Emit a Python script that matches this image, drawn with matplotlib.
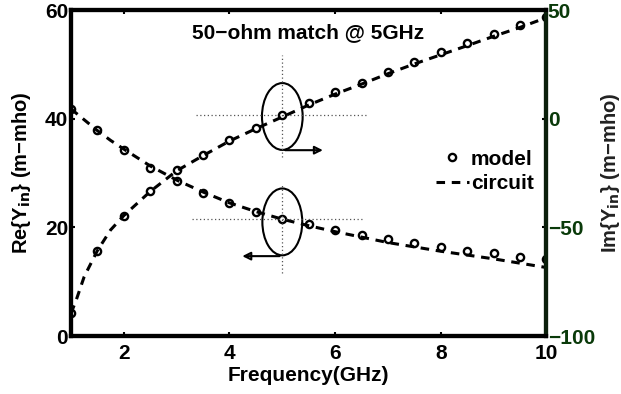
import numpy as np
import matplotlib
matplotlib.use('Agg')
import matplotlib.pyplot as plt
from matplotlib.patches import Ellipse

plt.rcParams['font.family'] = ['Liberation Sans', 'DejaVu Sans']
plt.rcParams['font.weight'] = 'bold'

# model points, every 0.5 GHz
freq = [1, 1.5, 2, 2.5, 3, 3.5, 4, 4.5, 5, 5.5, 6, 6.5, 7, 7.5, 8, 8.5, 9, 9.5, 10]
re_model = [41.8, 38.0, 34.2, 31.0, 28.6, 26.4, 24.4, 22.9, 21.5, 20.6, 19.5,
            18.6, 17.8, 17.2, 16.4, 15.7, 15.3, 14.6, 14.1]
im_model = [-89.6, -60.7, -44.6, -33.3, -23.6, -16.7, -9.8, -4.1, 1.5, 7.1, 12.1,
            16.6, 21.6, 26.2, 30.5, 34.6, 39.0, 43.1, 46.9]

# circuit curves
freq_c = [1, 1.1, 1.25, 1.5, 1.75, 2, 2.5, 3, 3.5, 4, 4.5, 5, 5.5, 6, 6.5, 7,
          7.5, 8, 8.5, 9, 9.5, 10]
re_circ = [41.8, 41.0, 39.8, 37.8, 36.0, 34.4, 31.3, 28.7, 26.5, 24.5, 22.9, 21.5,
           20.3, 19.2, 18.2, 17.2, 16.4, 15.6, 14.9, 14.2, 13.4, 12.6]
im_circ = [-89.6, -83.4, -72.7, -60.7, -51.2, -44.6, -33.5, -24.0, -17.0, -10.3,
           -4.6, 0.8, 6.3, 11.3, 15.9, 20.7, 25.2, 29.4, 33.6, 37.9, 42.0, 46.5]

fig = plt.figure(figsize=(6.21, 3.94), dpi=100)
ax = fig.add_axes([0.1143, 0.1472, 0.7657, 0.8274])
ax2 = ax.twinx()

lw = 2.2
dash = (0, (2.8, 2.2))
mk = dict(marker='o', ms=5.2, mfc='none', mec='black', mew=1.7, ls='none')
ax.plot(freq_c, re_circ, color='black', ls=dash, lw=lw, label='circuit')
ax.plot(freq, re_model, label='model', **mk)
ax2.plot(freq_c, im_circ, color='black', ls=dash, lw=lw)
ax2.plot(freq, im_model, **mk)

ax.set_xlim(1, 10)
ax.set_ylim(0, 60)
ax2.set_ylim(-100, 50)
ax.set_xticks([2, 4, 6, 8, 10])
ax.set_yticks([0, 20, 40, 60])
ax2.set_yticks([-100, -50, 0, 50])

for a in (ax, ax2):
    for s in a.spines.values():
        s.set_linewidth(3)
ax2.spines['right'].set_color('#0b1f0b')

fs = 15
ax.tick_params(axis='y', direction='in', length=3, width=1.5, labelsize=fs, pad=2)
ax.tick_params(axis='x', direction='in', length=3, width=1.5, labelsize=fs,
               top=True, pad=6)
ax2.tick_params(axis='y', direction='in', length=3, width=1.5, labelsize=fs,
                labelcolor='#0a3a0a', pad=1)

ax.set_xlabel('Frequency(GHz)', fontsize=fs, fontweight='bold', labelpad=2)
ax.set_ylabel('Re{Y$_{\\mathbf{in}}$} (m\u2212mho)', fontsize=14.5, fontweight='bold')
ax2.set_ylabel('Im{Y$_{\\mathbf{in}}$} (m\u2212mho)', fontsize=14.5, fontweight='bold',
               color='#222222')
ax.yaxis.set_label_coords(-0.08, 0.5)
ax2.yaxis.set_label_coords(1.11, 0.5)

ax.text(5.48, 55.8, '50\u2212ohm match @ 5GHz', ha='center', va='center',
        fontsize=fs, fontweight='bold')

# annotation: crosshairs, ellipses and arrows
dot = dict(color='#555555', ls=(0, (1, 2)), lw=0.9)
ax.plot([3.37, 6.6], [40.7, 40.7], **dot)
ax.plot([3.30, 6.55], [21.5, 21.5], **dot)
ax.plot([5.0, 5.0], [33.0, 51.7], **dot)
ax.plot([5.0, 5.0], [11.6, 27.8], **dot)
ax.add_patch(Ellipse((5.0, 40.4), 0.77, 12.3, fill=False, lw=1.5, ec='black'))
ax.add_patch(Ellipse((5.0, 21.0), 0.755, 12.3, fill=False, lw=1.5, ec='black'))
ax.annotate('', xy=(5.82, 34.2), xytext=(5.0, 34.2),
            arrowprops=dict(arrowstyle='-|>', lw=1.5, color='black',
                            mutation_scale=12, fill=False))
ax.annotate('', xy=(4.19, 14.7), xytext=(5.0, 14.7),
            arrowprops=dict(arrowstyle='-|>', lw=1.5, color='black',
                            mutation_scale=12, fill=False))

h, l = ax.get_legend_handles_labels()
ax.legend(h[::-1], l[::-1], loc='upper right', bbox_to_anchor=(1.0, 0.61),
          frameon=False, fontsize=fs, handlelength=1.6, handletextpad=0.1,
          labelspacing=0.25, borderaxespad=0.2)

fig.savefig('out.png', dpi=100)
